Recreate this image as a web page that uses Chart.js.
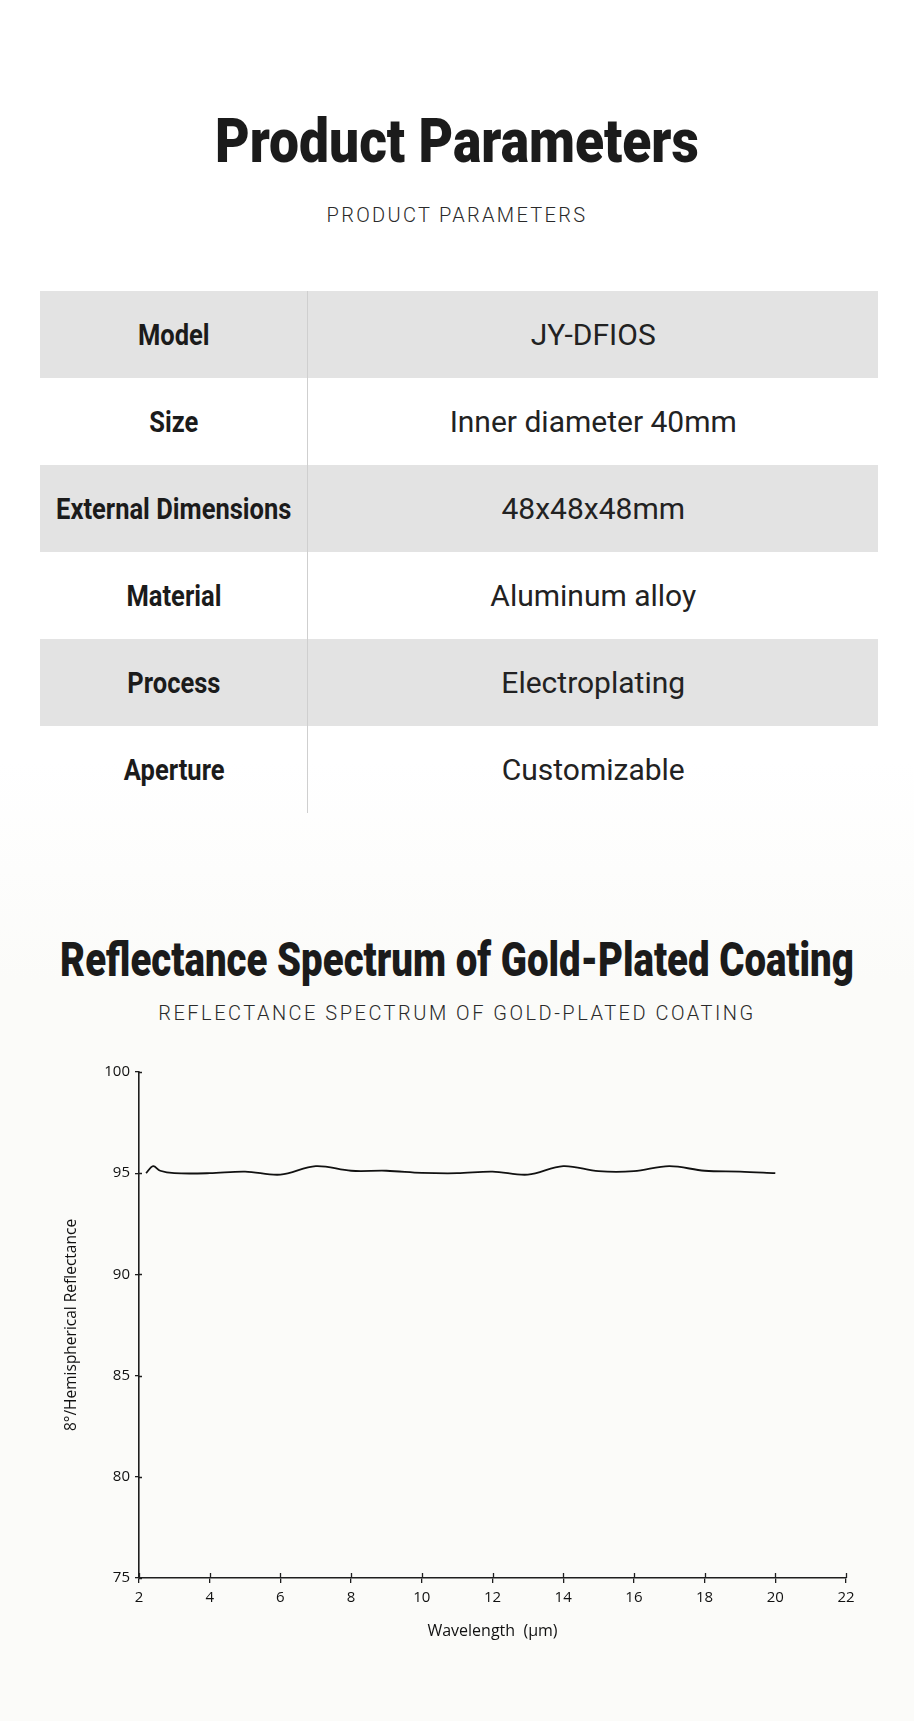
<!DOCTYPE html>
<html>
<head>
<meta charset="utf-8">
<script src="https://cdn.jsdelivr.net/npm/chart.js@4.4.1/dist/chart.umd.min.js"></script>
<style>
    html, body { margin:0; padding:0; }
    body { width:914px; height:1721px; position:relative; overflow:hidden; font-family:Roboto, "Noto Sans", sans-serif; color:#1b1b1b;
           background:linear-gradient(to bottom, #ffffff 0px, #ffffff 760px, #fbfbf9 980px, #fbfbf9 1721px); }
    .title { position:absolute; left:50%; font-weight:900; white-space:nowrap; transform-origin:center; }
    .sub { position:absolute; left:0; width:914px; text-align:center; font-weight:300; white-space:nowrap; color:#2a2a2a; }
    table { position:absolute; left:40px; top:291px; width:838px; border-collapse:collapse; }
    td { height:87px; padding:0; text-align:center; vertical-align:middle; white-space:nowrap; }
    td.k { width:267px; font-size:29px; font-weight:700; border-right:1px solid #cfcfcf; }
    td.k span { display:inline-block; transform:scaleX(0.88); }
    td.v { font-size:30px; font-weight:400; color:#222; }
    tr.g td { background:#e3e3e3; }
    .chartBox { position:absolute; left:0; top:1040px; width:914px; height:640px; }
</style>
</head>
<body>

<div class="title" style="top:104px; font-size:62px; line-height:74px; transform:translateX(-50%) scaleX(0.86);">Product Parameters</div>
<div class="sub" style="top:201px; font-size:20px; line-height:28px; letter-spacing:2.3px;">PRODUCT PARAMETERS</div>

<table id="paramTable"></table>

<div class="title" style="top:931px; font-size:48px; line-height:58px; transform:translateX(-50%) scaleX(0.80);">Reflectance Spectrum of Gold-Plated Coating</div>
<div class="sub" style="top:999px; font-size:20px; line-height:28px; letter-spacing:2.5px;">REFLECTANCE SPECTRUM OF GOLD-PLATED COATING</div>

<div class="chartBox"><canvas id="reflChart"></canvas></div>

<script>
// --- table rows ---
const paramNames = ['Model', 'Size', 'External Dimensions', 'Material', 'Process', 'Aperture'];
const paramValues = ['JY-DFIOS', 'Inner diameter 40mm', '48x48x48mm', 'Aluminum alloy', 'Electroplating', 'Customizable'];

// --- spectrum ---
const wavelengths = [2.2, 2.4, 2.6, 3, 4, 5, 6, 7, 8, 9, 10, 11, 12, 13, 14, 15, 16, 17, 18, 19, 20];
const reflectance = [95.0, 95.35, 95.12, 95.0, 95.0, 95.08, 94.93, 95.35, 95.12, 95.12, 95.02, 95.0, 95.08, 94.93, 95.35, 95.1, 95.1, 95.35, 95.12, 95.08, 95.0];
const xTicks = [2, 4, 6, 8, 10, 12, 14, 16, 18, 20, 22];
const yTicks = [75, 80, 85, 90, 95, 100];

document.getElementById('paramTable').innerHTML = paramNames.map((name, i) => `
    <tr class="${i % 2 === 0 ? 'g' : ''}">
        <td class="k"><span>${name}</span></td>
        <td class="v">${paramValues[i]}</td>
    </tr>`).join('');

// small tick stubs on the inner side of both axes
const innerTicks = {
    id: 'innerTicks',
    afterDraw(chart) {
        const { ctx, scales: { x, y } } = chart;
        ctx.save();
        ctx.strokeStyle = '#1e1e1e';
        ctx.lineWidth = 1.3;
        ctx.beginPath();
        xTicks.forEach(v => {
            const px = Math.round(x.getPixelForValue(v)) + 0.5;
            ctx.moveTo(px, y.bottom);
            ctx.lineTo(px, y.bottom - 5);
        });
        yTicks.forEach(v => {
            const py = Math.round(y.getPixelForValue(v)) + 0.5;
            ctx.moveTo(x.left, py);
            ctx.lineTo(x.left + 3, py);
        });
        ctx.stroke();
        ctx.restore();
    }
};

const tickFont = { family: '"Open Sans", "Noto Sans", sans-serif', size: 15 };

new Chart(document.getElementById('reflChart'), {
    type: 'line',
    data: {
        datasets: [{
            data: wavelengths.map((w, i) => ({ x: w, y: reflectance[i] })),
            borderColor: '#111',
            borderWidth: 1.8,
            pointRadius: 0,
            tension: 0.35,
            fill: false
        }]
    },
    options: {
        responsive: true,
        maintainAspectRatio: false,
        animation: false,
        layout: { padding: { top: 32, right: 68, left: 0, bottom: 0 } },
        plugins: { legend: { display: false }, tooltip: { enabled: false } },
        scales: {
            x: {
                type: 'linear',
                min: 2, max: 22,
                afterBuildTicks: s => { s.ticks = xTicks.map(v => ({ value: v })); },
                afterFit: s => { s.height = 102; },
                grid: { drawOnChartArea: false, tickLength: 5, color: '#1e1e1e', lineWidth: 1.3 },
                border: { color: '#1e1e1e', width: 1.6 },
                ticks: { color: '#111', font: tickFont, padding: 6, maxRotation: 0 },
                title: { display: true, text: 'Wavelength  (μm)', color: '#111', font: { family: tickFont.family, size: 16 }, padding: { top: 0, bottom: 39 } }
            },
            y: {
                min: 75, max: 100,
                afterBuildTicks: s => { s.ticks = yTicks.map(v => ({ value: v })); },
                afterFit: s => { s.width = 139; },
                grid: { drawOnChartArea: false, tickLength: 4, color: '#1e1e1e', lineWidth: 1.3 },
                border: { color: '#1e1e1e', width: 1.6 },
                ticks: { color: '#111', font: tickFont, padding: 5 },
                title: { display: true, text: '8°/Hemispherical Reflectance', color: '#111', font: { family: tickFont.family, size: 15.5 }, padding: { top: 62, bottom: 0 } }
            }
        }
    },
    plugins: [innerTicks]
});
</script>
</body>
</html>
